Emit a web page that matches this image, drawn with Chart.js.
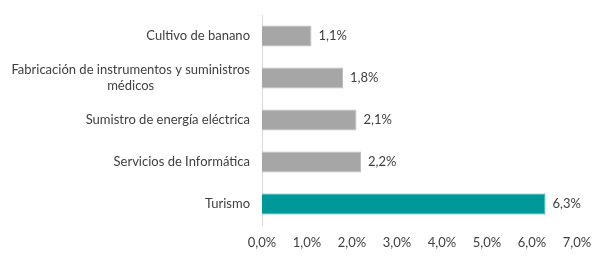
<!DOCTYPE html>
<html>
<head>
<meta charset="utf-8">
<script src="https://cdn.jsdelivr.net/npm/chart.js@4/dist/chart.umd.min.js"></script>
<style>
  html, body { margin: 0; padding: 0; background: #fff; }
  #wrap { width: 606px; height: 258px; }
</style>
</head>
<body>
<div id="wrap"><canvas id="sectorChart"></canvas></div>
<script>
// categorias (arriba -> abajo)
var categories = [
  "Cultivo de banano",
  ["Fabricación de instrumentos y suministros", "médicos"],
  "Sumistro de energía eléctrica",
  "Servicios de Informática",
  "Turismo"
];
var values = [1.1, 1.8, 2.1, 2.2, 6.3];
var xTicks = [0, 1, 2, 3, 4, 5, 6, 7];

var barColors = ["#a6a6a6", "#a6a6a6", "#a6a6a6", "#a6a6a6", "#009999"];
var borderColors = ["#bdbdbd", "#bdbdbd", "#bdbdbd", "#bdbdbd", "#33b0b0"];
var fontFam = "Lato, 'Open Sans', sans-serif";
var textColor = "#404040";

function pct(v) {
  return v.toFixed(1).replace(".", ",") + "%";
}

// etiquetas de categoria (la de dos lineas va centrada)
var catLabels = {
  id: "catLabels",
  afterDraw: function(chart) {
    var ctx = chart.ctx;
    var y = chart.scales.y;
    var right = chart.chartArea.left - 12;
    ctx.save();
    ctx.font = "13px " + fontFam;
    ctx.fillStyle = textColor;
    ctx.textBaseline = "middle";
    categories.forEach(function(c, i) {
      var yc = y.getPixelForValue(i);
      if (Array.isArray(c)) {
        var w = ctx.measureText(c[0]).width;
        var mid = right - w / 2;
        ctx.textAlign = "center";
        ctx.fillText(c[0], mid, yc - 8);
        ctx.fillText(c[1], mid, yc + 8);
      } else {
        ctx.textAlign = "right";
        ctx.fillText(c, right, yc);
      }
    });
    ctx.restore();
  }
};

// valores al final de cada barra
var valueLabels = {
  id: "valueLabels",
  afterDatasetsDraw: function(chart) {
    var ctx = chart.ctx;
    var meta = chart.getDatasetMeta(0);
    ctx.save();
    ctx.font = "13px " + fontFam;
    ctx.fillStyle = textColor;
    ctx.textAlign = "left";
    ctx.textBaseline = "middle";
    meta.data.forEach(function(bar, i) {
      ctx.fillText(pct(values[i]), bar.x + 7, bar.y);
    });
    ctx.restore();
  }
};

var ctx = document.getElementById("sectorChart").getContext("2d");
var chart = new Chart(ctx, {
  type: "bar",
  data: {
    labels: categories,
    datasets: [{
      data: values,
      backgroundColor: barColors,
      borderColor: borderColors,
      borderWidth: 1,
      categoryPercentage: 1,
      barPercentage: 0.5
    }]
  },
  options: {
    indexAxis: "y",
    responsive: true,
    maintainAspectRatio: false,
    animation: false,
    layout: { padding: { left: 262, right: 29, top: 15, bottom: 0 } },
    plugins: { legend: { display: false }, tooltip: { enabled: false } },
    scales: {
      x: {
        min: 0,
        max: 7,
        afterBuildTicks: function(axis) {
          axis.ticks = xTicks.map(function(v) { return { value: v }; });
        },
        afterFit: function(axis) { axis.height = 33; },
        grid: { display: false, drawTicks: false },
        border: { display: false },
        ticks: {
          padding: 10,
          color: textColor,
          font: { family: fontFam, size: 13 },
          callback: function(v) { return pct(v); }
        }
      },
      y: {
        afterFit: function(axis) { axis.width = 0; },
        grid: { display: false, drawTicks: false },
        border: { display: true, color: "#d9d9d9", width: 1 },
        ticks: { display: false }
      }
    }
  },
  plugins: [catLabels, valueLabels]
});
</script>
</body>
</html>
